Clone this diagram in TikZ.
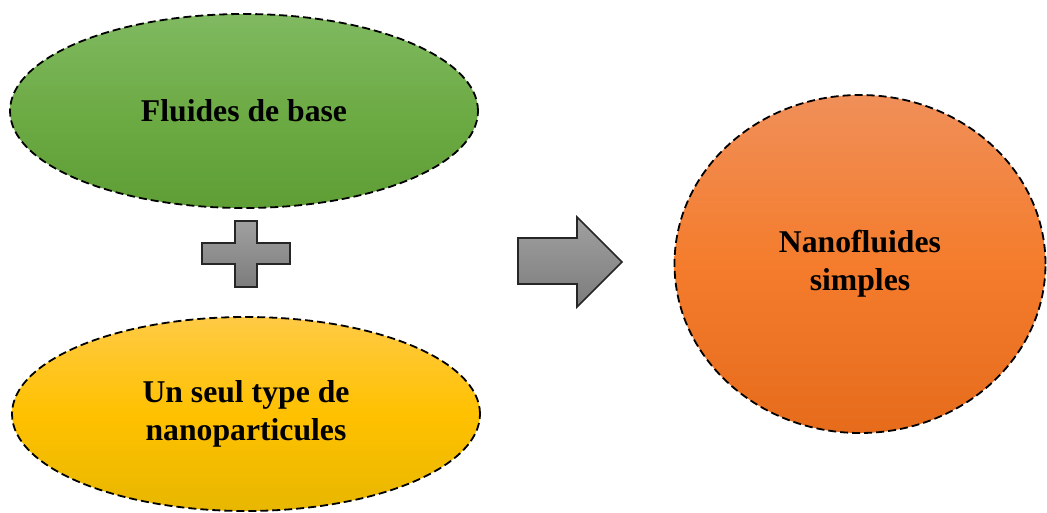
\documentclass[tikz,border=0pt]{standalone}
\usepackage{fontspec}
\setmainfont{Liberation Serif}
\usetikzlibrary{shapes}
\usetikzlibrary{positioning}
\definecolor{greentop}{HTML}{80B961}
\definecolor{greenmid}{HTML}{6DAB45}
\definecolor{greenbot}{HTML}{5E9E35}
\definecolor{yellowtop}{HTML}{FFCA45}
\definecolor{yellowmid}{HTML}{FFC100}
\definecolor{yellowbot}{HTML}{E8B700}
\definecolor{orangetop}{HTML}{F08F59}
\definecolor{orangemid}{HTML}{F47C2C}
\definecolor{orangebot}{HTML}{E66C1C}
\definecolor{graytop}{HTML}{A0A0A0}
\definecolor{graybot}{HTML}{7C7C7C}
\tikzset{
    myblob/.style = {ellipse, inner sep=0pt, draw=black, line width=1.8pt, dash pattern=on 8pt off 4pt, align=center, text=black},
    myblobg/.style = {myblob, top color=greentop, bottom color=greenbot, middle color=greenmid},
    mybloby/.style = {myblob, top color=yellowtop, bottom color=yellowbot, middle color=yellowmid},
    myblobo/.style = {myblob, top color=orangetop, bottom color=orangebot, middle color=orangemid},
    mysign/.style = {draw=black!85, line width=1.6pt, line join=miter, top color=graytop, bottom color=graybot},
    every picture/.style={font issue=\bfseries\fontsize{31.7}{38}},
    font issue/.style={execute at begin picture={#1\selectfont}}
}
\begin{document}
\begin{tikzpicture}[x=1pt,y=-1pt]
\useasboundingbox (0,0) rectangle (1047,512);
\node[myblobg, minimum width=468pt, minimum height=194pt] at (244, 111) (fluides) {Fluides de base};
\node[mybloby, minimum width=468pt, minimum height=194pt] at (246, 414) (particules) {Un seul type de\\nanoparticules};
\node[myblobo, minimum width=371pt, minimum height=338pt] at (860, 264) (nano) {Nanofluides\\simples};

% plus sign
\draw[mysign] (235,221) -- (257,221) -- (257,243) -- (290,243) -- (290,264) -- (257,264)
    -- (257,287) -- (235,287) -- (235,264) -- (202,264) -- (202,243) -- (235,243) -- cycle;
% block arrow
\draw[mysign] (518,238) -- (577,238) -- (577,217) -- (622,262) -- (577,307) -- (577,284)
    -- (518,284) -- cycle;
\end{tikzpicture}
\end{document}
